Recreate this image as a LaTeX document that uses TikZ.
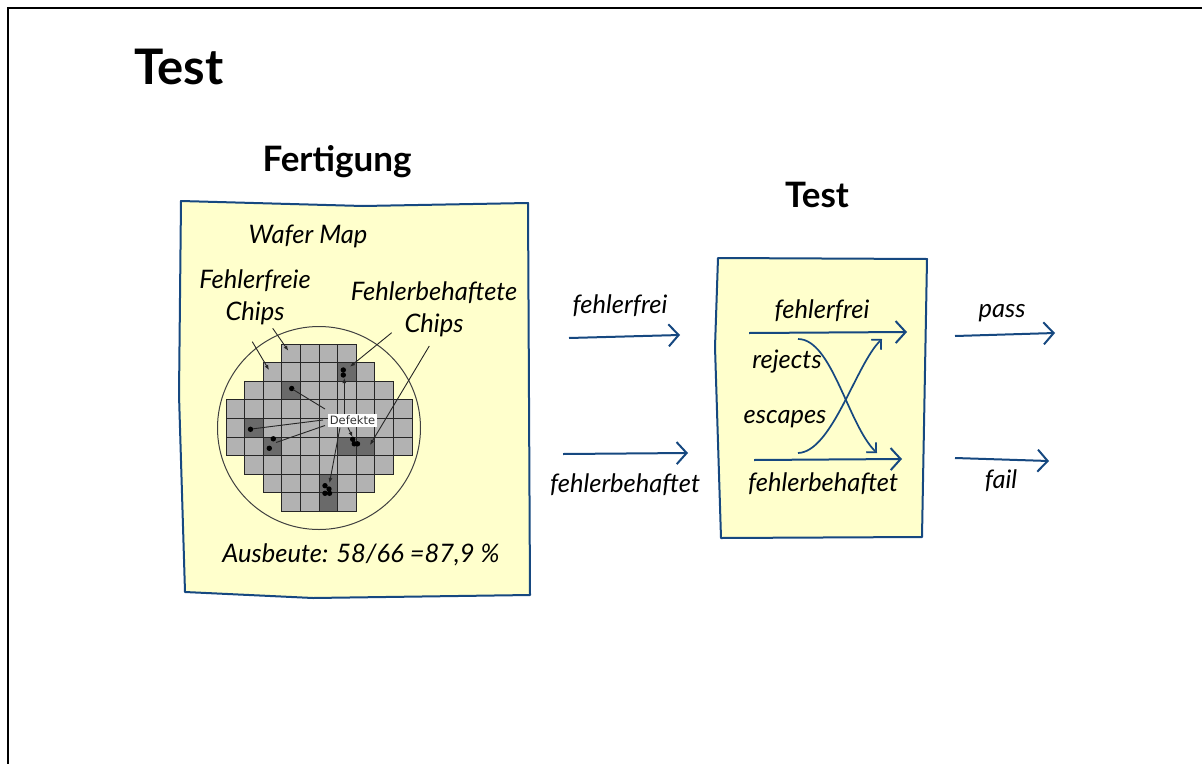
\documentclass[tikz,border=0pt]{standalone}
\usepackage{fontspec}
\setmainfont{Lato}
\newfontfamily\tagfont{DejaVu Sans}
\usetikzlibrary{arrows.meta}
\definecolor{paper}{RGB}{255,255,204}
\definecolor{ink}{RGB}{22,72,128}
\definecolor{chipgray}{RGB}{178,178,178}
\definecolor{chipdark}{RGB}{106,106,106}
\def\chipcell#1#2{(226+18.6*#1,344+18.6*#2) rectangle ++(18.6,18.6)}
\def\fabsheet{(181,201) -- (363,206) -- (528,203) -- (530,595) -- (313,598) -- (185,592) -- (179,395) -- cycle}
\def\testsheet{(718,258) -- (927,259) -- (922,537) -- (721,538) -- (715,347) -- cycle}
\def\defectdot#1{\fill #1 circle [radius=2.7pt];}

\begin{document}
\begin{tikzpicture}[x=1pt,y=-1pt,
    lbl/.style={font=\itshape\fontsize{25.5}{32}\selectfont,inner sep=0pt,align=center},
    head/.style={font=\bfseries\fontsize{35}{40}\selectfont,inner sep=0pt},
    chip/.style={fill=chipgray,draw=black!85,line width=0.9pt},
    sheet/.style={fill=paper,draw=ink,line width=2pt,line join=round},
    flow/.style={ink,line width=2pt,-{Straight Barb[length=10pt,width=22pt]}},
    swap/.style={ink,line width=1.7pt,-{Straight Barb[length=7pt,width=14pt]}},
    ptr/.style={black!85,line width=0.9pt,-{Latex[length=5pt,width=4pt]}},
    tie/.style={black!85,line width=0.9pt}]
  \useasboundingbox (0,0) rectangle (1202,763);
  \clip (0,0) rectangle (1202,763);
  \draw[line width=2pt] (1210,8) -- (8,8) -- (8,770);
  \node[font=\bfseries\fontsize{49}{54}\selectfont,inner sep=0pt] (title) at (179,67) {Test};

  % Fertigung: wafer map
  \node[head] (fabhd) at (337,162) {Fertigung};
  \draw[sheet] \fabsheet;
  \node[lbl] (wafer) at (308,236) {Wafer Map};
  \node[lbl] (goodlbl) at (255,297) {Fehlerfreie\\Chips};
  \node[lbl] (badlbl) at (434,309) {Fehlerbehaftete\\Chips};
  \draw[black!75,line width=1pt] (319,428) circle [radius=101.5pt];
  \foreach \r/\a/\b in {0/3/6,1/2/7,2/1/8,3/0/9,4/0/9,5/0/9,6/1/8,7/2/7,8/3/6}
    \foreach \c in {\a,...,\b}
      \filldraw[chip] \chipcell\c\r;
  \foreach \c/\r in {6/1,3/2,1/4,2/5,6/5,7/5,5/7,5/8}
    \filldraw[chip,fill=chipdark] \chipcell\c\r;
  \foreach \p in {(343.3,370),(343.3,375),(291.7,388.5),(250.5,429.3),(273.3,438.8),
      (269.3,448.3),(352.7,439.3),(354.3,443.8),(357.5,443.8),(325,485.7),
      (325,493.3),(329.5,493.3),(329,489)}
    \defectdot\p
  \node[fill=white,inner sep=0pt,minimum width=49pt,minimum height=12.5pt,
    font=\tagfont\fontsize{11.5}{13}\selectfont,text=black!80] (defekte) at (352.5,420.5) {Defekte};
  \node[lbl] (yield) at (361,555) {Ausbeute: 58/66 =87,9 \%};

  \coordinate (g1) at (272.7,328.3); \coordinate (g1e) at (288.3,350.7);
  \coordinate (g2) at (252.3,341.7); \coordinate (g2e) at (269,370);
  \coordinate (b1) at (391.7,332.7); \coordinate (b1e) at (350,366.7);
  \coordinate (b2) at (429.3,346);   \coordinate (b2e) at (370,445);
  \draw[ptr] (g1) -- (g1e);
  \draw[ptr] (g2) -- (g2e);
  \draw[ptr] (b1) -- (b1e);
  \draw[ptr] (b2) -- (b2e);

  \coordinate (d1) at (325,409);     \coordinate (d1e) at (293,389.5);
  \coordinate (d2) at (323,420);     \coordinate (d2e) at (253,428.8);
  \coordinate (d3) at (325,425.5);   \coordinate (d3e) at (276,442.5);
  \coordinate (d4) at (344.3,414);   \coordinate (d4e) at (344.3,378);
  \coordinate (d5) at (348,427.5);   \coordinate (d5e) at (352.5,437);
  \coordinate (d6) at (340,427.5);   \coordinate (d6e) at (329.5,483);
  \draw[tie] (d1) -- (d1e);
  \draw[tie] (d2) -- (d2e);
  \draw[tie] (d3) -- (d3e);
  \draw[ptr] (d4) -- (d4e);
  \draw[ptr] (d5) -- (d5e);
  \draw[ptr] (d6) -- (d6e);

  % zwischen Fertigung und Test
  \node[lbl] (freein) at (620,306) {fehlerfrei};
  \node[lbl] (badin) at (625,485) {fehlerbehaftet};
  \coordinate (fa) at (569,338); \coordinate (fb) at (680,335);
  \coordinate (ba) at (563,454); \coordinate (bb) at (688,453);
  \draw[flow] (fa) -- (fb);
  \draw[flow] (ba) -- (bb);

  % Test
  \node[head] (testhd) at (817,195) {Test};
  \draw[sheet] \testsheet;
  \node[lbl] (freet) at (822,311) {fehlerfrei};
  \node[lbl] (rej) at (787,362) {rejects};
  \node[lbl] (esc) at (785,419) {escapes};
  \node[lbl] (badt) at (823,484) {fehlerbehaftet};
  \coordinate (tfa) at (749,333); \coordinate (tfb) at (907,332);
  \coordinate (tba) at (754,460); \coordinate (tbb) at (902,459);
  \coordinate (ra) at (798,339);  \coordinate (rb) at (877,453);
  \coordinate (ea) at (798,453);  \coordinate (eb) at (882,339);
  \draw[flow] (tfa) -- (tfb);
  \draw[flow] (tba) -- (tbb);
  \draw[swap] (ra) .. controls (832,339) and (848,425) .. (rb);
  \draw[swap] (ea) .. controls (832,452) and (856,364) .. (eb);

  \node[lbl] (pass) at (1002,313) {pass};
  \node[lbl] (fail) at (1001,481) {fail};
  \coordinate (pa) at (955,336); \coordinate (pb) at (1055,333);
  \coordinate (la) at (955,458); \coordinate (lb) at (1049,461);
  \draw[flow] (pa) -- (pb);
  \draw[flow] (la) -- (lb);
\end{tikzpicture}
\end{document}
